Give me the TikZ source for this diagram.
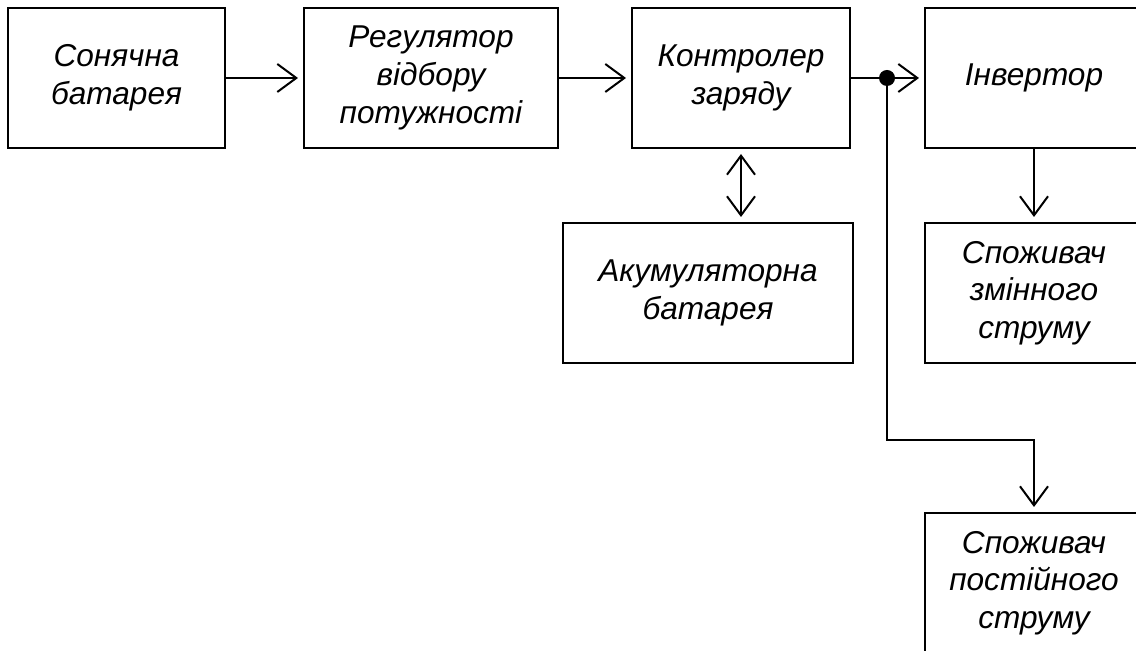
\documentclass[tikz,border=0pt]{standalone}
\usepackage{fontspec}
\setmainfont{Liberation Sans}
\usetikzlibrary{arrows.meta}
\begin{document}
\begin{tikzpicture}[x=0.5pt,y=-0.5pt,
  blk/.style={draw, line width=1pt, align=center, inner sep=0pt,
    font=\fontsize{15.8}{18.8}\selectfont\itshape, minimum height=70pt},
  arr/.style={line width=1pt, -{Straight Barb[length=9.5pt,width=14pt]}, shorten >=2.5pt},
  darr/.style={line width=1pt, {Straight Barb[length=9.5pt,width=14pt]}-{Straight Barb[length=9.5pt,width=14pt]}, shorten >=2.5pt, shorten <=2.5pt},
  wire/.style={line width=1pt}]
\useasboundingbox (0,0) rectangle (1136,651);
\fill[white] (0,0) rectangle (1136,651);
\clip (0,0) rectangle (1136,651);

\node[blk, minimum width=108.5pt] (sb) at (116.5,78) {Сонячна\\батарея};
\node[blk, minimum width=127pt] (reg) at (431,78) {Регулятор\\відбору\\потужності};
\node[blk, minimum width=109pt] (ctl) at (741,78) {Контролер\\заряду};
\node[blk, minimum width=109pt] (inv) at (1034,78) {Інвертор};
\node[blk, minimum width=145pt] (acc) at (708,293) {Акумуляторна\\батарея};
\node[blk, minimum width=109pt] (ac) at (1034,293) {Споживач\\змінного\\струму};
\node[blk, minimum width=109pt] (dc) at (1034,583) {Споживач\\постійного\\струму};

\coordinate (j) at (887,78);
\coordinate (bend) at (887,440);

\draw[arr] (sb.east) -- (reg.west);
\draw[arr] (reg.east) -- (ctl.west);
\draw[arr] (ctl.east) -- (inv.west);
\draw[darr] (ctl.south) -- (ctl.south |- acc.north);
\draw[arr] (inv.south) -- (ac.north);
\draw[arr] (j) -- (bend) -| (dc.north);
\fill (j) circle[radius=4pt];
\end{tikzpicture}
\end{document}
